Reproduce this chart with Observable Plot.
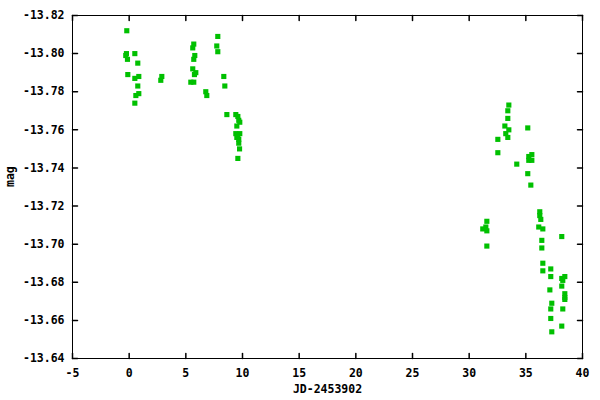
<!DOCTYPE html>
<html>
<head>
<meta charset="utf-8">
<script src="https://cdn.jsdelivr.net/npm/d3@7"></script>
<script src="https://cdn.jsdelivr.net/npm/@observablehq/plot@0.6"></script>
<style>
  html, body { margin: 0; padding: 0; background: #fff; }
</style>
</head>
<body>
<div id="chart"></div>
<script>
const jd = [
  -0.21, -0.30, -0.24, -0.15, 0.50, 0.76, -0.12, 0.50, 0.85, 0.76, 0.85, 0.59, 0.50, 2.88, 2.79,
  7.82, 5.70, 5.61, 7.73, 7.82, 5.79, 5.70, 5.61, 5.88, 5.76, 5.44, 5.70, 8.35, 8.44, 6.76, 6.85,
  8.62, 9.41, 9.59, 9.67, 9.76, 9.50, 9.41, 9.59, 9.50, 9.67, 9.76, 9.67, 9.74, 9.59,
  33.50, 33.41, 33.41, 33.15, 33.50, 33.23, 33.41, 32.53, 35.17, 32.53, 35.53, 35.26, 35.26, 35.53, 34.20, 35.17, 35.44,
  31.56, 31.20, 31.47, 31.56, 31.56,
  36.23, 36.23, 36.32, 36.14, 36.50, 38.17, 36.41, 36.41, 36.50, 36.50, 37.20, 37.20, 38.17, 38.44, 38.26, 38.17, 37.12, 38.44, 38.44, 38.44, 37.29, 37.20, 38.26, 37.20, 38.17, 37.29
];
const mag = [
  -13.812, -13.799, -13.800, -13.797, -13.800, -13.795, -13.789, -13.787, -13.788, -13.783, -13.779, -13.778, -13.774, -13.788, -13.786,
  -13.809, -13.805, -13.803, -13.804, -13.801, -13.799, -13.797, -13.792, -13.790, -13.789, -13.785, -13.785, -13.788, -13.783, -13.780, -13.778,
  -13.768, -13.768, -13.767, -13.765, -13.764, -13.762, -13.758, -13.757, -13.756, -13.755, -13.758, -13.753, -13.750, -13.745,
  -13.773, -13.770, -13.766, -13.762, -13.760, -13.758, -13.756, -13.755, -13.761, -13.748, -13.747, -13.746, -13.744, -13.744, -13.742, -13.737, -13.731,
  -13.712, -13.708, -13.709, -13.707, -13.699,
  -13.717, -13.715, -13.713, -13.709, -13.708, -13.704, -13.702, -13.698, -13.690, -13.686, -13.687, -13.683, -13.682, -13.683, -13.681, -13.678, -13.676, -13.674, -13.672, -13.671, -13.669, -13.666, -13.666, -13.661, -13.657, -13.654
];
const xTicks = [-5, 0, 5, 10, 15, 20, 25, 30, 35, 40];
const yTicks = [-13.82, -13.80, -13.78, -13.76, -13.74, -13.72, -13.70, -13.68, -13.66, -13.64];
const xLabel = "JD-2453902";
const yLabel = "mag";

const points = jd.map((x, i) => ({x, y: mag[i]}));
const line = {draw(ctx, l) { ctx.moveTo(0, 0); ctx.lineTo(0, -l); }};

const chart = Plot.plot({
  width: 600,
  height: 400,
  marginLeft: 72,
  marginRight: 18,
  marginTop: 15,
  marginBottom: 42,
  style: {fontFamily: "DejaVu Sans Mono", fontSize: "11.5px", fontWeight: "bold", color: "#000", background: "#fff"},
  x: {domain: [-5, 40]},
  y: {domain: [-13.82, -13.64], reverse: true},
  marks: [
    Plot.dot(points, {x: "x", y: "y", symbol: "square", r: 2.9, fill: "#00c000"}),
    Plot.frame({stroke: "#000", strokeWidth: 1}),
    Plot.vector(yTicks, {y: d => d, frameAnchor: "left", rotate: 90, length: 5, anchor: "start", shape: line, stroke: "#000"}),
    Plot.vector(yTicks, {y: d => d, frameAnchor: "right", rotate: -90, length: 5, anchor: "start", shape: line, stroke: "#000"}),
    Plot.vector(xTicks, {x: d => d, frameAnchor: "bottom", rotate: 0, length: 5, anchor: "start", shape: line, stroke: "#000"}),
    Plot.vector(xTicks, {x: d => d, frameAnchor: "top", rotate: 180, length: 5, anchor: "start", shape: line, stroke: "#000"}),
    Plot.axisY({ticks: yTicks, tickSize: 0, tickPadding: 8, tickFormat: d => d.toFixed(2), label: null}),
    Plot.axisX({ticks: xTicks, tickSize: 0, tickPadding: 10, tickFormat: d => String(d), label: null}),
    Plot.text([xLabel], {text: d => d, frameAnchor: "bottom", dy: 34}),
    Plot.text([yLabel], {text: d => d, frameAnchor: "left", rotate: -90, dx: -62})
  ]
});
document.getElementById("chart").appendChild(chart);
</script>
</body>
</html>
